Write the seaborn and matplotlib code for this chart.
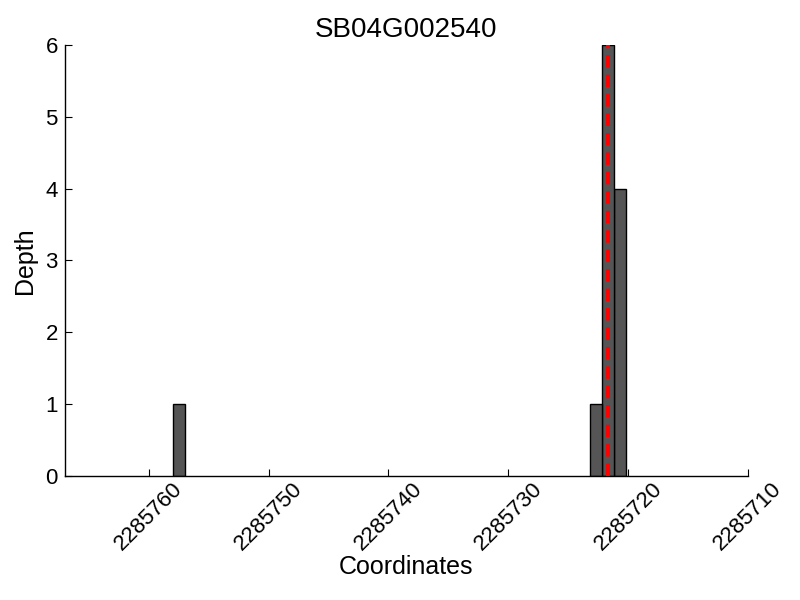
import matplotlib
matplotlib.use("Agg")
import matplotlib.pyplot as plt
import seaborn as sns
import pandas as pd

title = "SB04G002540"
coords = [2285757.5, 2285722.7, 2285721.7, 2285720.7]
depths = [1, 1, 6, 4]
marker_pos = 2285721.7
x_ticks = [2285760, 2285750, 2285740, 2285730, 2285720, 2285710]
y_ticks = [0, 1, 2, 3, 4, 5, 6]

sns.set_style("ticks")
plt.rcParams['font.family'] = ['Liberation Sans', 'DejaVu Sans']
plt.rcParams.update({
    "text.color": "black",
    "axes.labelcolor": "black",
    "xtick.color": "black",
    "ytick.color": "black",
    "axes.edgecolor": "black",
})

df = pd.DataFrame({"Coordinates": coords, "Depth": depths})

fig = plt.figure(figsize=(8, 6), dpi=100)
ax = fig.add_axes([0.081, 0.207, 0.854, 0.718])

sns.barplot(data=df, x="Coordinates", y="Depth", native_scale=True, width=1,
            color="#555555", saturation=1, edgecolor="black", linewidth=1.0,
            errorbar=None, ax=ax)
ax.axvline(marker_pos, color="#ff0000", linestyle="--", linewidth=2.8,
           dashes=(3.2, 1.8), zorder=5)

ax.set_xlim(2285767, 2285710)
ax.set_ylim(0, 6)
ax.set_xticks(x_ticks)
ax.set_xticklabels([str(t) for t in x_ticks], rotation=45, fontsize=16)
ax.set_yticks(y_ticks)
ax.set_yticklabels([str(t) for t in y_ticks], fontsize=16)
ax.tick_params(direction="in", length=5, width=0.8, color="black", pad=5)
ax.tick_params(axis="x", pad=2)
for s in ["top", "right"]:
    ax.spines[s].set_visible(False)
for s in ["left", "bottom"]:
    ax.spines[s].set_color("black")
    ax.spines[s].set_linewidth(1.0)

ax.set_xlabel("Coordinates", fontsize=18, labelpad=0)
ax.set_ylabel("Depth", fontsize=18, labelpad=6)
ax.set_title(title, fontsize=20, pad=6)

fig.savefig("out.png", dpi=100)
